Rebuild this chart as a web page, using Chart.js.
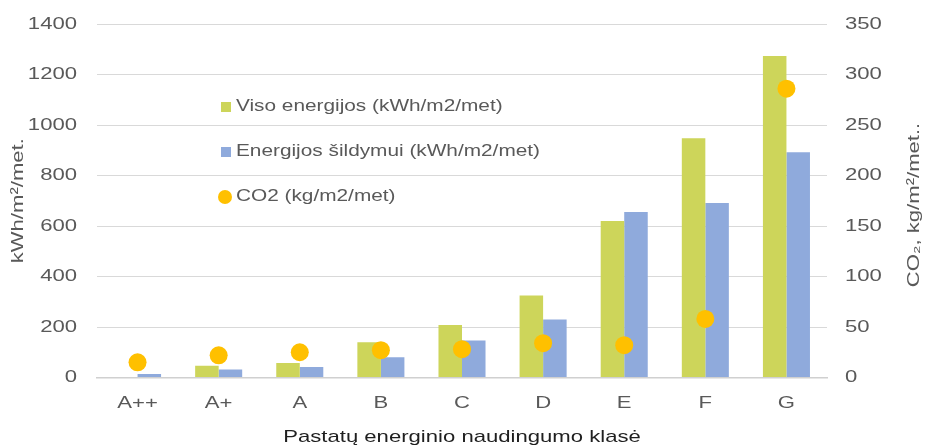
<!DOCTYPE html>
<html>
<head>
<meta charset="utf-8">
<script src="https://cdn.jsdelivr.net/npm/chart.js@4"></script>
<style>
    html, body { margin: 0; padding: 0; background: #fff; }
    #wrap { position: relative; width: 928px; height: 445px; }
    #legend { position: absolute; left: 218px; top: 95px; font-family: "Liberation Sans", Arial, sans-serif; font-size: 16px; color: #595959; }
    .legend-row { position: relative; height: 45px; }
    .legend-mark { position: absolute; }
    .legend-text { position: absolute; left: 18px; top: 2px; white-space: nowrap; transform: scaleX(1.3); transform-origin: left center; }
</style>
</head>
<body>
<div id="wrap">
    <canvas id="grafikas" width="928" height="445"></canvas>
    <div id="legend"></div>
</div>
<script>
// Duomenys (nuskaityta nuo paveikslo)
const klases = ['A++', 'A+', 'A', 'B', 'C', 'D', 'E', 'F', 'G'];
const visoEnergijos = [0, 47, 57, 140, 208, 325, 620, 948, 1273];
const energijosSildymui = [14, 32, 42, 80, 147, 230, 655, 691, 892];
const co2 = [15, 22, 25, 27, 28, 34, 32, 58, 286];

const serijuPavadinimai = ['Viso energijos (kWh/m2/met)', 'Energijos šildymui (kWh/m2/met)', 'CO2 (kg/m2/met)'];
const spalvos = ['#CDD55A', '#8FAADC', '#FFC000'];

const TEXT_STRETCH = 1.3; // originalo tekstas platesnis nei Arial
const FONT = '"Liberation Sans", Arial, sans-serif';

const canvas = document.getElementById('grafikas');
const ctx = canvas.getContext('2d');

// Tekstas paveiksle "ištemptas" horizontaliai - tempiam kiekvieną fillText
const baseFillText = CanvasRenderingContext2D.prototype.fillText;
ctx.fillText = function (text, x, y) {
    this.save();
    this.translate(x, y);
    this.scale(TEXT_STRETCH, 1);
    baseFillText.call(this, text, 0, 0);
    this.restore();
};

// Dešinės ašies pavadinimas skaitomas iš apačios į viršų
const desinesPavadinimas = {
    id: 'desinesPavadinimas',
    afterDraw(chart) {
        const c = chart.ctx;
        c.save();
        c.translate(914, 205);
        c.rotate(-Math.PI / 2);
        c.font = '17px ' + FONT;
        c.fillStyle = '#595959';
        c.textAlign = 'center';
        c.textBaseline = 'middle';
        c.fillText('CO₂, kg/m²/met..', 0, 0);
        c.restore();
    }
};

// fiksuotas ašies plotis, be papildomo tarpo viršuje/apačioje
function fiksuotiPloti(plotis) {
    return s => {
        s.width = plotis;
        s.paddingTop = 0;
        s.paddingBottom = 0;
    };
}

const grafikas = new Chart(ctx, {
    type: 'bar',
    data: {
        labels: klases,
        datasets: [
            {
                type: 'line',
                label: serijuPavadinimai[2],
                data: co2,
                yAxisID: 'y1',
                showLine: false,
                pointRadius: 9,
                pointHoverRadius: 9,
                pointBackgroundColor: spalvos[2],
                pointBorderWidth: 0,
                order: 0
            },
            {
                label: serijuPavadinimai[0],
                data: visoEnergijos,
                backgroundColor: spalvos[0],
                borderWidth: 0,
                categoryPercentage: 0.58,
                barPercentage: 1,
                order: 1
            },
            {
                label: serijuPavadinimai[1],
                data: energijosSildymui,
                backgroundColor: spalvos[1],
                borderWidth: 0,
                categoryPercentage: 0.58,
                barPercentage: 1,
                order: 2
            }
        ]
    },
    options: {
        responsive: false,
        animation: false,
        devicePixelRatio: 1,
        layout: { padding: { top: 24, left: 0, right: 0, bottom: 0 } },
        plugins: { legend: { display: false }, tooltip: { enabled: false } },
        scales: {
            x: {
                grid: { display: false },
                border: { color: '#D0D0D0', width: 1.5 },
                ticks: { color: '#595959', font: { family: FONT, size: 17 }, padding: 8 },
                title: { display: true, text: 'Pastatų energinio naudingumo klasė', color: '#1F1F1F', font: { family: FONT, size: 17 }, padding: { top: 0, bottom: -3 } },
                afterFit: s => { s.height = 67.5; }
            },
            y: {
                position: 'left',
                min: 0,
                max: 1400,
                ticks: { stepSize: 200, color: '#595959', font: { family: FONT, size: 17 }, padding: 20, callback: v => String(v) },
                grid: { color: '#D9D9D9', lineWidth: 1, drawTicks: false },
                border: { display: false },
                title: { display: true, text: 'kWh/m²/met.', color: '#595959', font: { family: FONT, size: 17 }, padding: { top: 8, bottom: 0 } },
                afterFit: fiksuotiPloti(97)
            },
            y1: {
                position: 'right',
                min: 0,
                max: 350,
                ticks: { stepSize: 50, color: '#595959', font: { family: FONT, size: 17 }, padding: 18, callback: v => String(v) },
                grid: { drawOnChartArea: false, drawTicks: false },
                border: { display: false },
                afterFit: fiksuotiPloti(101)
            }
        }
    },
    plugins: [desinesPavadinimas]
});

// HTML legenda (viduje grafiko ploto)
const legenda = document.getElementById('legend');
const zymekliai = [
    '<span class="legend-mark" style="left:3px;top:7px;width:10px;height:10px;background:' + spalvos[0] + '"></span>',
    '<span class="legend-mark" style="left:3px;top:7px;width:10px;height:10px;background:' + spalvos[1] + '"></span>',
    '<span class="legend-mark" style="left:0px;top:5px;width:14px;height:14px;border-radius:50%;background:' + spalvos[2] + '"></span>'
];
serijuPavadinimai.forEach((pav, i) => {
    const row = document.createElement('div');
    row.className = 'legend-row';
    row.innerHTML = zymekliai[i] + '<span class="legend-text">' + pav + '</span>';
    legenda.appendChild(row);
});
</script>
</body>
</html>
